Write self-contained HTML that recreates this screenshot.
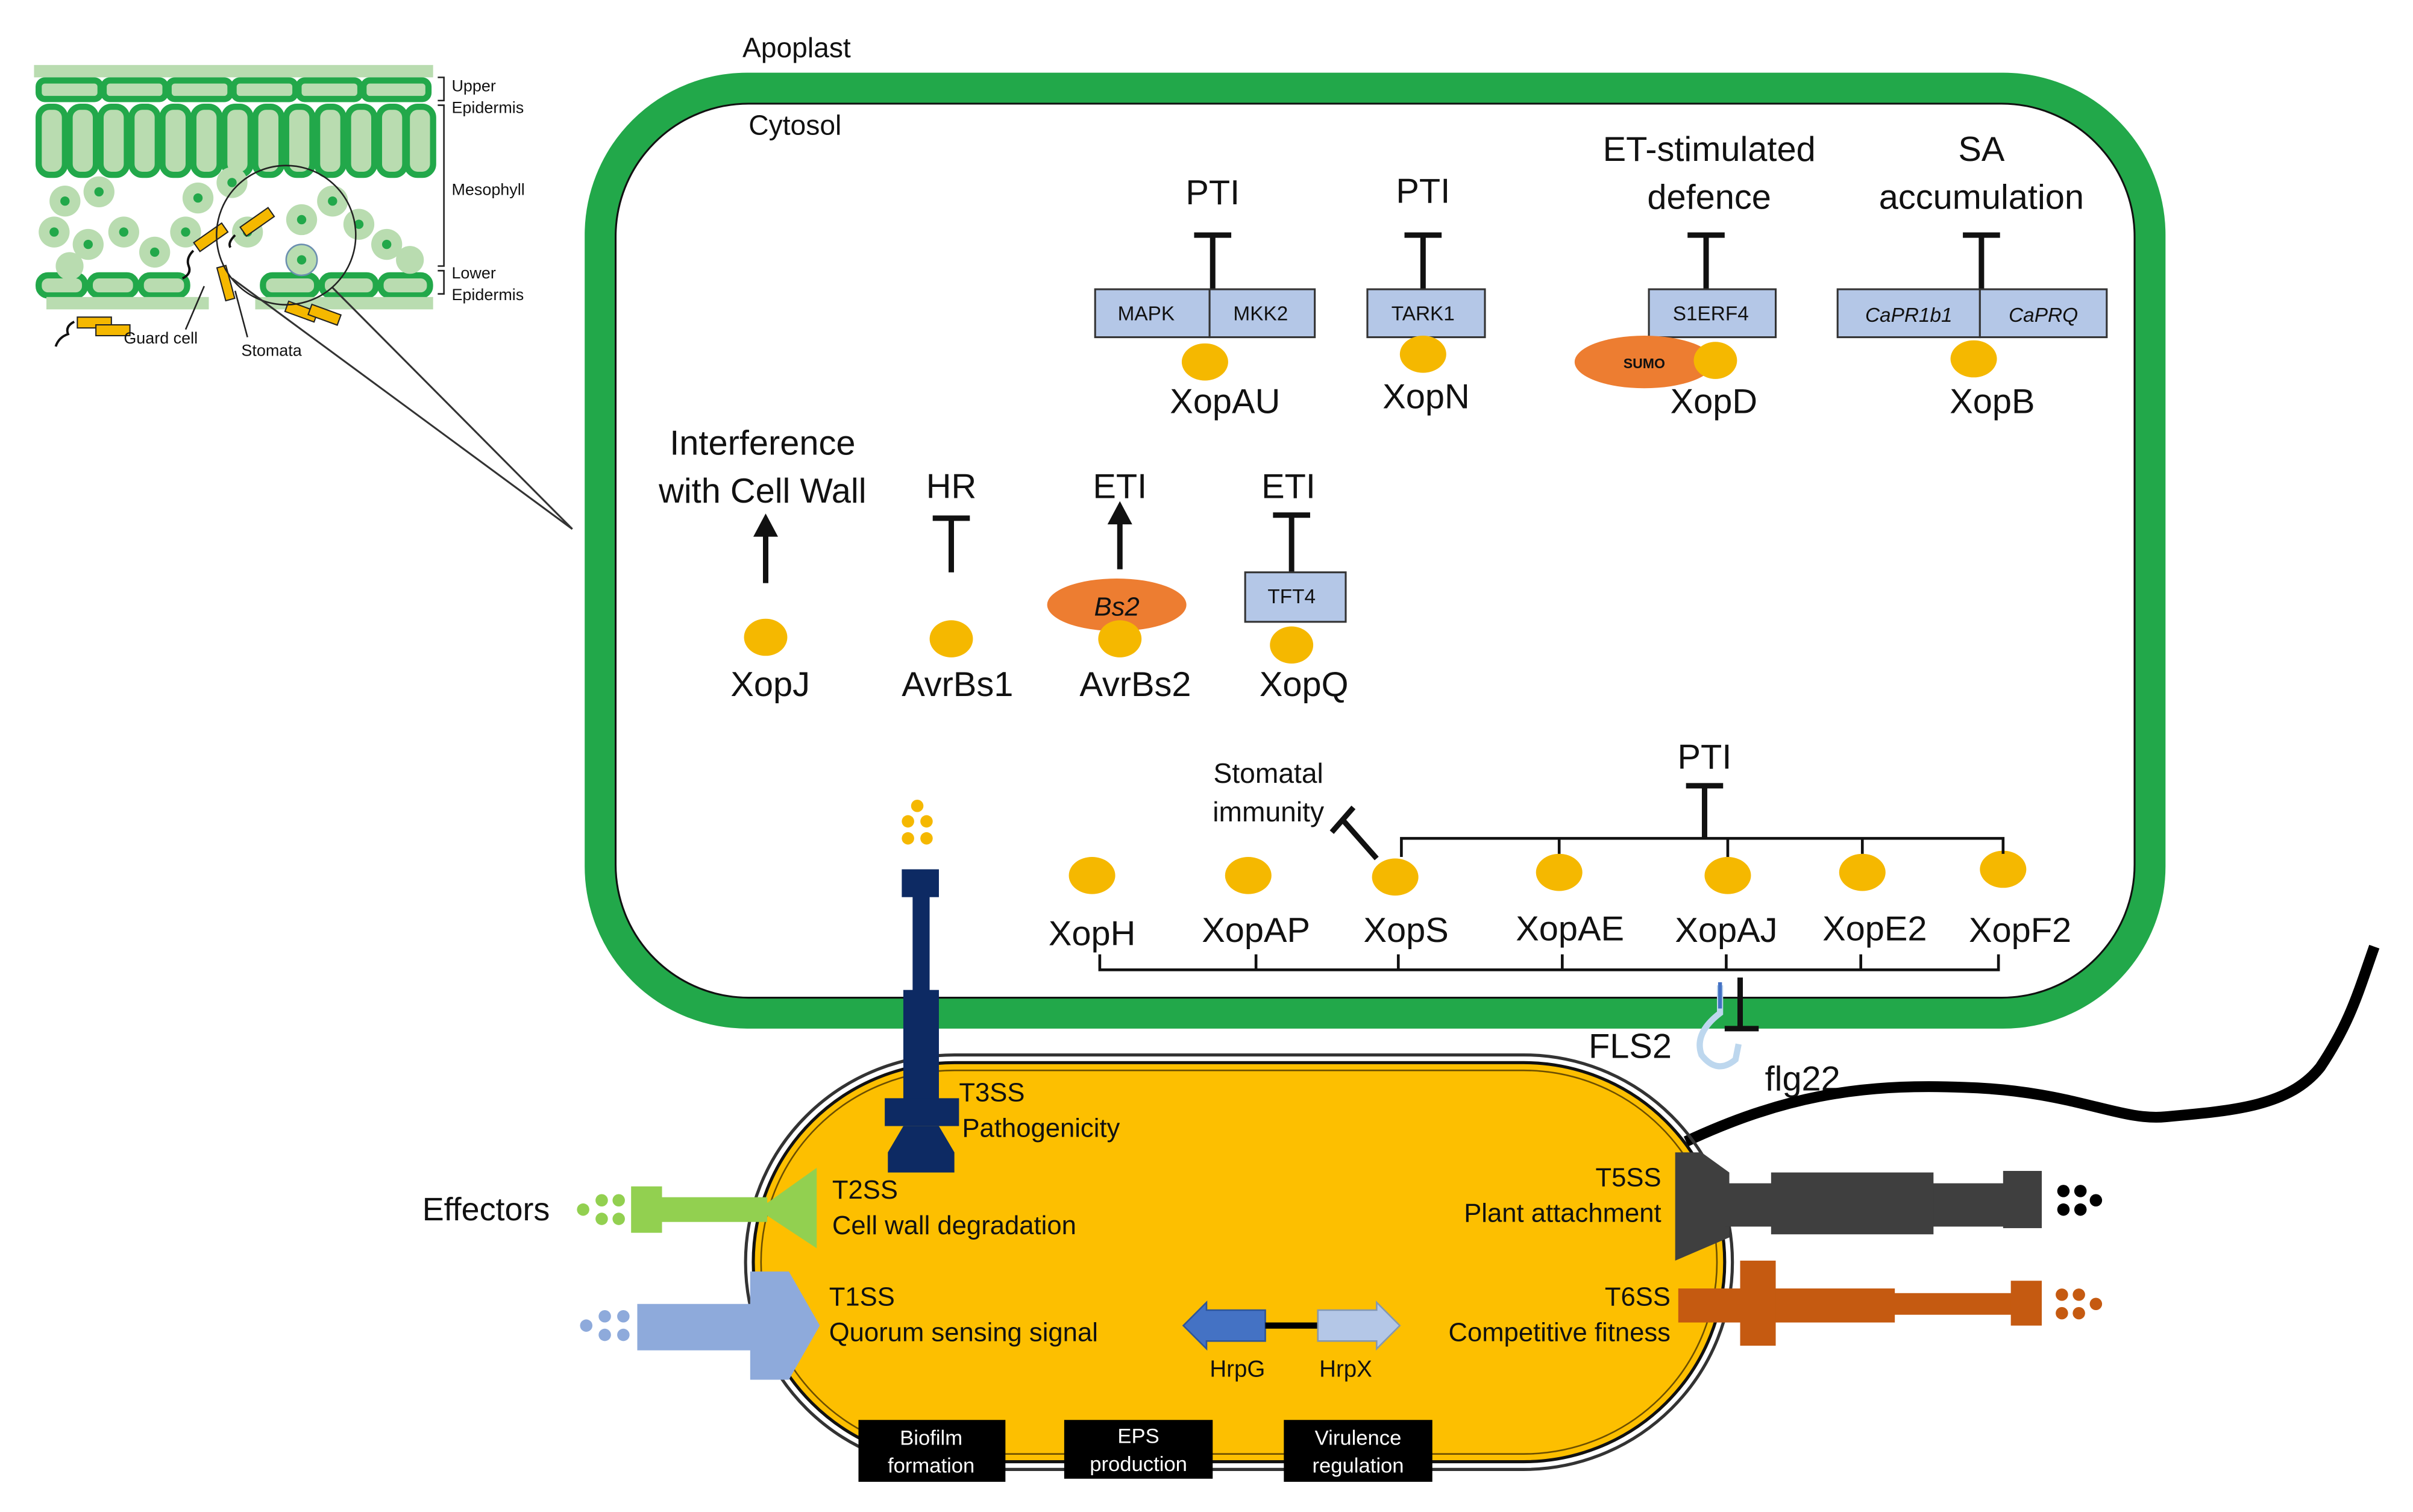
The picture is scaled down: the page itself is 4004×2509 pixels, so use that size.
<!DOCTYPE html>
<html><head><meta charset="utf-8"><style>
html,body{margin:0;padding:0;background:#fff;}
svg{display:block;}
text{font-family:"Liberation Sans",Arial,sans-serif;fill:#111;}
text.w{fill:#fff;}
</style></head><body>
<svg width="4004" height="2509" viewBox="0 0 1560 977.5" xmlns="http://www.w3.org/2000/svg">
<!-- Inset leaf -->
<g>
<rect x="22" y="42" width="258" height="8" fill="#b9dcb0"/>
<g fill="#b9dcb0" stroke="#22a84a" stroke-width="4">
<rect x="25" y="52" width="40" height="12" rx="4"/><rect x="67" y="52" width="40" height="12" rx="4"/><rect x="109" y="52" width="40" height="12" rx="4"/><rect x="151" y="52" width="40" height="12" rx="4"/><rect x="193" y="52" width="40" height="12" rx="4"/><rect x="235" y="52" width="42" height="12" rx="4"/>
<rect x="25" y="69" width="17" height="44" rx="7"/><rect x="45" y="69" width="17" height="44" rx="7"/><rect x="65" y="69" width="17" height="44" rx="7"/><rect x="85" y="69" width="17" height="44" rx="7"/><rect x="105" y="69" width="17" height="44" rx="7"/><rect x="125" y="69" width="17" height="44" rx="7"/><rect x="145" y="69" width="17" height="44" rx="7"/><rect x="165" y="69" width="17" height="44" rx="7"/><rect x="185" y="69" width="17" height="44" rx="7"/><rect x="205" y="69" width="17" height="44" rx="7"/><rect x="225" y="69" width="17" height="44" rx="7"/><rect x="245" y="69" width="17" height="44" rx="7"/><rect x="263" y="69" width="17" height="44" rx="7"/>
<rect x="25" y="178" width="30" height="13" rx="6"/><rect x="58" y="178" width="30" height="13" rx="6"/><rect x="91" y="178" width="30" height="13" rx="6"/><rect x="170" y="178" width="35" height="13" rx="6"/><rect x="208" y="178" width="35" height="13" rx="6"/><rect x="246" y="178" width="32" height="13" rx="6"/>
</g>
<g fill="#b9dcb0">
<circle cx="42" cy="130" r="10"/><circle cx="64" cy="124" r="10"/><circle cx="35" cy="150" r="10"/><circle cx="57" cy="158" r="10"/><circle cx="80" cy="150" r="10"/><circle cx="45" cy="172" r="9"/><circle cx="100" cy="163" r="10"/><circle cx="120" cy="150" r="10"/><circle cx="128" cy="128" r="10"/><circle cx="150" cy="118" r="10"/><circle cx="160" cy="150" r="10"/><circle cx="195" cy="142" r="10"/><circle cx="215" cy="130" r="10"/><circle cx="232" cy="145" r="10"/><circle cx="250" cy="158" r="10"/><circle cx="265" cy="168" r="9"/><circle cx="195" cy="168" r="10" stroke="#6b8fb0" stroke-width="1"/>
</g>
<g fill="#22a84a">
<circle cx="42" cy="130" r="3"/><circle cx="64" cy="124" r="3"/><circle cx="35" cy="150" r="3"/><circle cx="57" cy="158" r="3"/><circle cx="80" cy="150" r="3"/><circle cx="100" cy="163" r="3"/><circle cx="120" cy="150" r="3"/><circle cx="128" cy="128" r="3"/><circle cx="150" cy="118" r="3"/><circle cx="160" cy="150" r="3"/><circle cx="195" cy="142" r="3"/><circle cx="215" cy="130" r="3"/><circle cx="232" cy="145" r="3"/><circle cx="250" cy="158" r="3"/><circle cx="195" cy="168" r="3"/>
</g>
<rect x="30" y="192" width="105" height="8" fill="#b9dcb0"/><rect x="165" y="192" width="115" height="8" fill="#b9dcb0"/>
<g fill="#f5b800" stroke="#222" stroke-width="0.8">
<rect x="125" y="150" width="22" height="7" transform="rotate(-35 136 153)"/><rect x="155" y="140" width="22" height="7" transform="rotate(-35 166 143)"/><rect x="143" y="172" width="6" height="22" transform="rotate(-15 146 183)"/>
<rect x="50" y="205" width="22" height="7"/><rect x="62" y="210" width="22" height="7"/><rect x="185" y="198" width="20" height="7" transform="rotate(20 195 201)"/><rect x="200" y="200" width="20" height="7" transform="rotate(20 210 203)"/>
</g>
<g fill="none" stroke="#111" stroke-width="1.5"><path d="M125 162 q-5 5 -3 10 q2 5 -4 8"/><path d="M152 152 q-5 5 -3 8"/><path d="M48 208 q-6 3 -4 8 q-6 2 -8 8"/></g>
<circle cx="185" cy="152" r="45" fill="none" stroke="#222" stroke-width="1"/>
<line x1="215" y1="186" x2="370" y2="342" stroke="#333" stroke-width="1.2"/><line x1="150" y1="180" x2="370" y2="342" stroke="#333" stroke-width="1.2"/>
<g stroke="#222" stroke-width="1" fill="none"><path d="M283 50 h4 v15 h-4"/><path d="M283 68 h4 v104 h-4"/><path d="M283 175 h4 v15 h-4"/><line x1="132" y1="185" x2="120" y2="213"/><line x1="152" y1="188" x2="160" y2="218"/></g>
<g font-size="10.5"><text x="292" y="59">Upper</text><text x="292" y="73">Epidermis</text><text x="292" y="126">Mesophyll</text><text x="292" y="180">Lower</text><text x="292" y="194">Epidermis</text><text x="80" y="222">Guard  cell</text><text x="156" y="230">Stomata</text></g>
</g>

<!-- Plant cell -->
<rect x="388" y="57" width="1002" height="598" rx="95" fill="#fff" stroke="#22a84a" stroke-width="20"/>
<rect x="398" y="67" width="982" height="578" rx="86" fill="none" stroke="#111" stroke-width="1.2"/>
<text x="480" y="37" font-size="18">Apoplast</text>
<text x="484" y="87" font-size="18">Cytosol</text>

<g stroke="#111" stroke-width="3.5" fill="none">
<path d="M784 187 V152 M772 152 H796"/>
<path d="M920 187 V152 M908 152 H932"/>
<path d="M1103 187 V152 M1091 152 H1115"/>
<path d="M1281 187 V152 M1269 152 H1293"/>
<path d="M615 370 V335 M603 335 H627"/>
<path d="M835 370 V333 M823 333 H847"/>
<path d="M1102 542 V508 M1090 508 H1114"/>
<path d="M890 555 L868 530 M861 538 L875 522"/>
<path d="M1125 632 V665 M1115 665 H1137"/>
</g>
<g stroke="#111" stroke-width="3.5"><line x1="495" y1="377" x2="495" y2="345"/><line x1="724" y1="368" x2="724" y2="337"/></g>
<polygon points="487,347 503,347 495,332" fill="#111"/><polygon points="716,339 732,339 724,324" fill="#111"/>

<g fill="#b4c7e7" stroke="#333" stroke-width="1.2">
<rect x="708" y="187" width="74" height="31"/><rect x="782" y="187" width="68" height="31"/>
<rect x="884" y="187" width="76" height="31"/><rect x="1066" y="187" width="82" height="31"/>
<rect x="1188" y="187" width="92" height="31"/><rect x="1280" y="187" width="82" height="31"/>
<rect x="805" y="370" width="65" height="32"/>
</g>
<g font-size="13" text-anchor="middle"><text x="741" y="207">MAPK</text><text x="815" y="207">MKK2</text><text x="920" y="207">TARK1</text><text x="1106" y="207">S1ERF4</text><text x="1234" y="208" font-style="italic">CaPR1b1</text><text x="1321" y="208" font-style="italic">CaPRQ</text><text x="835" y="390">TFT4</text></g>

<ellipse cx="1063" cy="234" rx="45" ry="17" fill="#ed7d31"/><text x="1063" y="238" font-size="9" font-weight="bold" text-anchor="middle">SUMO</text>
<ellipse cx="722" cy="391" rx="45" ry="17" fill="#ed7d31"/><text x="722" y="398" font-size="17" font-style="italic" text-anchor="middle">Bs2</text>

<g fill="#f5b800">
<ellipse cx="779" cy="234" rx="15" ry="12"/><ellipse cx="920" cy="229" rx="15" ry="12"/><ellipse cx="1109" cy="233" rx="14" ry="12"/><ellipse cx="1276" cy="232" rx="15" ry="12"/>
<ellipse cx="495" cy="412" rx="14" ry="12"/><ellipse cx="615" cy="413" rx="14" ry="12"/><ellipse cx="724" cy="413" rx="14" ry="12"/><ellipse cx="835" cy="417" rx="14" ry="12"/>
<ellipse cx="706" cy="566" rx="15" ry="12"/><ellipse cx="807" cy="566" rx="15" ry="12"/><ellipse cx="902" cy="567" rx="15" ry="12"/><ellipse cx="1008" cy="564" rx="15" ry="12"/><ellipse cx="1117" cy="566" rx="15" ry="12"/><ellipse cx="1204" cy="564" rx="15" ry="12"/><ellipse cx="1295" cy="562" rx="15" ry="12"/>
</g>

<g font-size="22.5" text-anchor="middle">
<text x="784" y="132">PTI</text><text x="920" y="131">PTI</text><text x="1105" y="104">ET-stimulated</text><text x="1105" y="135">defence</text><text x="1281" y="104">SA</text><text x="1281" y="135">accumulation</text>
<text x="792" y="267">XopAU</text><text x="922" y="264">XopN</text><text x="1108" y="267">XopD</text><text x="1288" y="267">XopB</text>
<text x="493" y="294">Interference</text><text x="493" y="325">with Cell Wall</text><text x="615" y="322">HR</text><text x="724" y="322">ETI</text><text x="833" y="322">ETI</text>
<text x="498" y="450">XopJ</text><text x="619" y="450">AvrBs1</text><text x="734" y="450">AvrBs2</text><text x="843" y="450">XopQ</text>
<text x="1102" y="497">PTI</text>
<text x="706" y="611">XopH</text><text x="812" y="609">XopAP</text><text x="909" y="609">XopS</text><text x="1015" y="608">XopAE</text><text x="1116" y="609">XopAJ</text><text x="1212" y="608">XopE2</text><text x="1306" y="609">XopF2</text>
</g>
<g font-size="18" text-anchor="middle"><text x="820" y="506">Stomatal</text><text x="820" y="531">immunity</text></g>

<g stroke="#111" stroke-width="1.8" fill="none">
<path d="M906 554 V542 H1295 V552"/><path d="M1008 542 V552 M1117 542 V554 M1204 542 V552"/>
<path d="M711 617 V627 H1292 V617 M812 617 V627 M904 617 V627 M1010 617 V627 M1116 617 V627 M1203 617 V627"/>
</g>

<!-- FLS2 -->
<path d="M1112 637 V655 Q1095 668 1100 682 Q1110 695 1122 685 L1124 675" fill="none" stroke="#bdd7ee" stroke-width="4"/>
<line x1="1112" y1="635" x2="1112" y2="652" stroke="#4472c4" stroke-width="2.5"/>
<text x="1027" y="684" font-size="22.5">FLS2</text><text x="1141" y="705" font-size="22.5">flg22</text>

<!-- flagellum -->
<path d="M1090 738 C1150 710 1200 700 1270 703 C1340 705 1370 725 1400 722 C1445 718 1480 715 1500 690 C1520 660 1525 640 1535 612" fill="none" stroke="#000" stroke-width="7"/>

<!-- Bacterium -->
<rect x="482" y="682" width="638" height="268" rx="135" fill="none" stroke="#333" stroke-width="2"/>
<rect x="487" y="687" width="628" height="258" rx="130" fill="#fdbf00" stroke="#111" stroke-width="2"/>
<rect x="492" y="692" width="618" height="248" rx="125" fill="none" stroke="#6b4e00" stroke-width="1"/>

<!-- T3SS -->
<g fill="#0d2a63">
<rect x="583" y="562" width="24" height="18"/><rect x="590" y="578" width="11" height="70"/><rect x="584" y="640" width="23" height="72"/><rect x="572" y="710" width="48" height="18"/><polygon points="584,728 607,728 617,745 617,758 574,758 574,745"/>
</g>
<g fill="#f5b800"><circle cx="593" cy="521" r="4"/><circle cx="587" cy="531" r="4"/><circle cx="599" cy="531" r="4"/><circle cx="587" cy="542" r="4"/><circle cx="599" cy="542" r="4"/></g>

<!-- T2SS -->
<g fill="#92d050"><rect x="408" y="767" width="20" height="30"/><rect x="426" y="774" width="70" height="16"/><polygon points="490,782 528,755 528,807"/>
<circle cx="377" cy="782" r="4"/><circle cx="389" cy="776" r="4"/><circle cx="389" cy="788" r="4"/><circle cx="400" cy="776" r="4"/><circle cx="400" cy="788" r="4"/></g>
<!-- T1SS -->
<g fill="#8eaadb"><rect x="412" y="843" width="78" height="30"/><polygon points="485,822 510,822 530,857 510,892 485,892"/>
<circle cx="379" cy="857" r="4"/><circle cx="391" cy="851" r="4"/><circle cx="391" cy="863" r="4"/><circle cx="403" cy="851" r="4"/><circle cx="403" cy="863" r="4"/></g>
<text x="273" y="789" font-size="21">Effectors</text>

<!-- T5SS -->
<g fill="#3f3f3f"><polygon points="1083,745 1100,745 1118,758 1118,800 1083,815"/><rect x="1115" y="765" width="205" height="28"/><rect x="1145" y="758" width="105" height="40"/><rect x="1295" y="757" width="25" height="37"/></g>
<g fill="#000"><circle cx="1334" cy="770" r="4"/><circle cx="1334" cy="782" r="4"/><circle cx="1345" cy="770" r="4"/><circle cx="1345" cy="782" r="4"/><circle cx="1355" cy="776" r="4"/></g>
<!-- T6SS -->
<g fill="#c55a11"><rect x="1085" y="833" width="140" height="22"/><rect x="1220" y="836" width="85" height="14"/><rect x="1125" y="815" width="23" height="55"/><rect x="1300" y="828" width="20" height="29"/></g>
<g fill="#c55a11"><circle cx="1333" cy="837" r="4"/><circle cx="1333" cy="849" r="4"/><circle cx="1344" cy="837" r="4"/><circle cx="1344" cy="849" r="4"/><circle cx="1355" cy="843" r="4"/></g>

<!-- Hrp -->
<polygon points="765,857 780,842 780,847 818,847 818,867 780,867 780,872" fill="#4472c4" stroke="#2f5597" stroke-width="1"/>
<line x1="818" y1="857" x2="852" y2="857" stroke="#000" stroke-width="4"/>
<polygon points="905,857 890,842 890,847 852,847 852,867 890,867 890,872" fill="#b4c7e7" stroke="#8497b0" stroke-width="1"/>
<g font-size="15" text-anchor="middle"><text x="800" y="890">HrpG</text><text x="870" y="890">HrpX</text></g>

<g font-size="17">
<text x="620" y="712">T3SS</text><text x="622" y="735">Pathogenicity</text>
<text x="538" y="775">T2SS</text><text x="538" y="798">Cell wall degradation</text>
<text x="536" y="844">T1SS</text><text x="536" y="867">Quorum  sensing signal</text>
</g>
<g font-size="17" text-anchor="end">
<text x="1074" y="767">T5SS</text><text x="1074" y="790">Plant attachment</text>
<text x="1080" y="844">T6SS</text><text x="1080" y="867">Competitive  fitness</text>
</g>

<g fill="#000"><rect x="555" y="918" width="95" height="40"/><rect x="688" y="918" width="96" height="38"/><rect x="830" y="918" width="96" height="40"/></g>
<g font-size="13.5" text-anchor="middle">
<text class="w" x="602" y="934">Biofilm</text><text class="w" x="602" y="952">formation</text>
<text class="w" x="736" y="933">EPS</text><text class="w" x="736" y="951">production</text>
<text class="w" x="878" y="934">Virulence</text><text class="w" x="878" y="952">regulation</text>
</g>
</svg>
</body></html>
